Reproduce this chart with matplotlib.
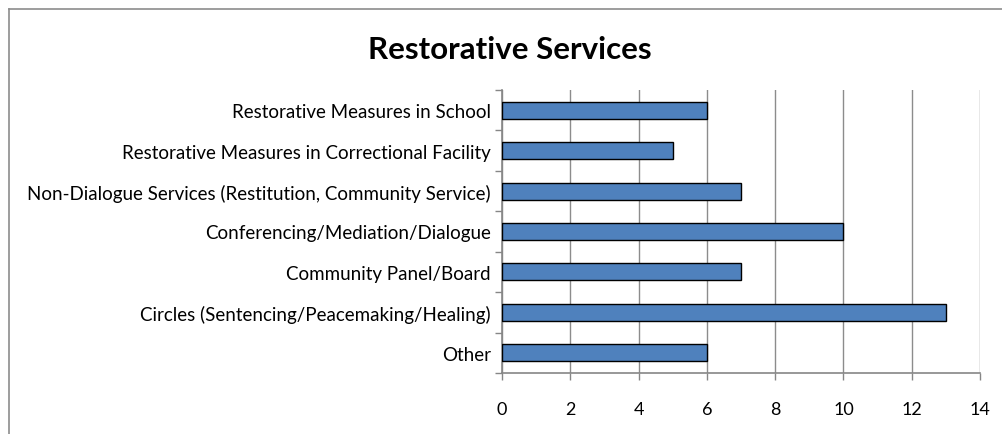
import matplotlib
matplotlib.use("Agg")
import matplotlib.pyplot as plt
from matplotlib.lines import Line2D
import numpy as np

categories = [
    "Other",
    "Circles (Sentencing/Peacemaking/Healing)",
    "Community Panel/Board",
    "Conferencing/Mediation/Dialogue",
    "Non-Dialogue Services (Restitution, Community Service)",
    "Restorative Measures in Correctional Facility",
    "Restorative Measures in School",
]
values = [6, 13, 7, 10, 7, 5, 6]
xticks = [0, 2, 4, 6, 8, 10, 12, 14]
title = "Restorative Services"

plt.rcParams['font.family'] = ['Lato', 'DejaVu Sans']

W, H = 1003, 435
fig = plt.figure(figsize=(W / 100, H / 100), dpi=100)
ax = fig.add_axes([502 / W, 1 - 374 / H, (980 - 502) / W, (374 - 91) / H])

y = np.arange(len(categories))
ax.barh(y, values, height=0.42, color="#4F81BD", edgecolor="#000000", linewidth=1.0, zorder=3)

ax.set_xlim(0, 14)
ax.set_ylim(-0.5, len(categories) - 0.5)
ax.set_xticks(xticks)
ax.set_xticklabels([str(t) for t in xticks], fontsize=13)
ax.xaxis.grid(True, color="#8C8C8C", linewidth=1.0, zorder=0)
ax.set_axisbelow(True)

# y ticks at category boundaries, labels at centers
ax.set_yticks(np.arange(-0.5, len(categories), 1.0))
ax.set_yticklabels([])
ax.set_yticks(y, minor=True)
ax.set_yticklabels(categories, minor=True, fontsize=13.5)
ax.tick_params(axis="y", which="minor", length=0, pad=8)
ax.tick_params(axis="y", which="major", length=5, color="#868686", width=1)
ax.tick_params(axis="x", length=5, color="#868686", width=1, pad=15)

for s in ["top", "right"]:
    ax.spines[s].set_visible(False)
for s in ["left", "bottom"]:
    ax.spines[s].set_color("#868686")
    ax.spines[s].set_linewidth(1.2)

fig.text(510 / W, 1 - 59 / H, title, ha="center", va="baseline",
         fontsize=22.5, fontweight="bold")

# chart border (left and top visible)
fig.add_artist(Line2D([9.5 / W, 9.5 / W], [0, 1 - 9.5 / H], color="#8C8C8C", linewidth=1.2, transform=fig.transFigure))
fig.add_artist(Line2D([9.5 / W, 1], [1 - 9.5 / H, 1 - 9.5 / H], color="#8C8C8C", linewidth=1.2, transform=fig.transFigure))

fig.savefig("out.png", dpi=100)
